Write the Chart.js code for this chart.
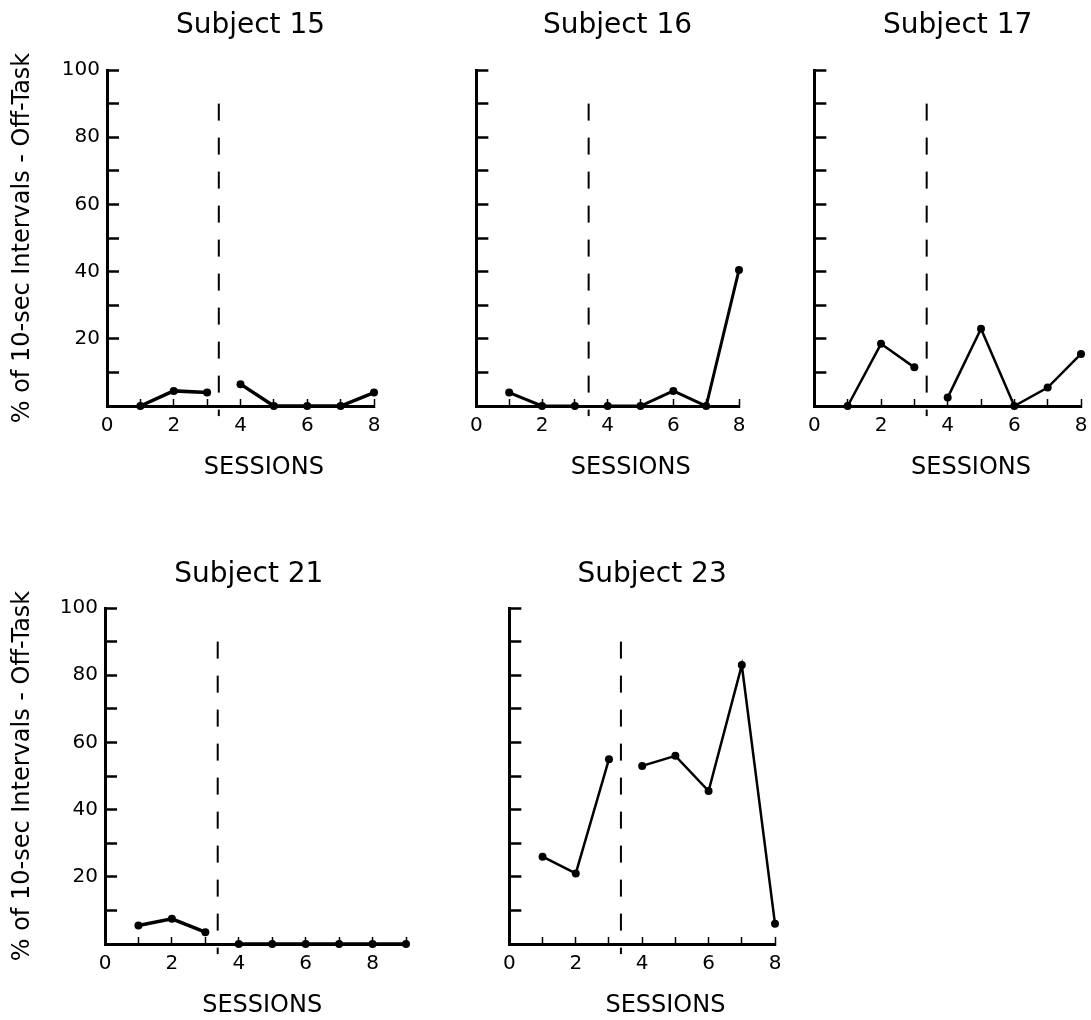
<!DOCTYPE html>
<html>
<head>
<meta charset="utf-8">
<script src="https://cdn.jsdelivr.net/npm/chart.js@4.4.1/dist/chart.umd.min.js"></script>
<style>
    html, body { margin: 0; padding: 0; background: #fff; overflow: hidden; }
    #wrap { position: relative; width: 1091px; height: 1020px; overflow: hidden; }
    canvas { position: absolute; }
</style>
</head>
<body>
<div id="wrap"></div>
<script>
// sessions and % of 10-sec intervals off-task
const subjects = ['Subject 15', 'Subject 16', 'Subject 17', 'Subject 21', 'Subject 23'];
const baselineSessions = [1, 2, 3];
const treatmentSessions = [4, 5, 6, 7, 8];
const treatmentSessions21 = [4, 5, 6, 7, 8, 9];

const s15Baseline = [0, 4.5, 4];
const s15Treatment = [6.5, 0, 0, 0, 4];
const s16Baseline = [4, 0, 0];
const s16Treatment = [0, 0, 4.5, 0, 40.5];
const s17Baseline = [0, 18.5, 11.5];
const s17Treatment = [2.5, 23, 0, 5.5, 15.5];
const s21Baseline = [5.5, 7.5, 3.5];
const s21Treatment = [0, 0, 0, 0, 0, 0];
const s23Baseline = [26, 21, 55];
const s23Treatment = [53, 56, 45.5, 83, 6];

const phaseChange = [3.35, 3.42, 3.37, 3.37, 3.36];
const sessionMax = [8, 8, 8, 9, 8];

const Y_TITLE = '% of 10-sec Intervals - Off-Task';
const X_TITLE = 'SESSIONS';

Chart.defaults.font.family = "'DejaVu Sans', sans-serif";
Chart.defaults.color = '#000';

// dashed baseline/treatment divider
const phaseLinePlugin = {
    id: 'phaseLine',
    afterDatasetsDraw(chart, args, opts) {
        const { ctx, scales: { x, y } } = chart;
        const xPos = x.getPixelForValue(opts.value);
        ctx.save();
        ctx.beginPath();
        ctx.setLineDash([17, 17]);
        ctx.strokeStyle = '#000';
        ctx.lineWidth = 2;
        ctx.moveTo(xPos, y.getPixelForValue(90));
        ctx.lineTo(xPos, y.getPixelForValue(-3));
        ctx.stroke();
        ctx.restore();
    }
};

// panel title and x caption, centred off-axis like the original figure
const captionPlugin = {
    id: 'captions',
    afterDraw(chart, args, opts) {
        const { ctx, chartArea, scales: { x } } = chart;
        ctx.save();
        ctx.fillStyle = '#000';
        ctx.textAlign = 'center';
        ctx.textBaseline = 'middle';
        ctx.font = "28px 'DejaVu Sans'";
        ctx.fillText(opts.title, x.getPixelForValue(4.3), chartArea.top - opts.titleGap);
        ctx.font = "24px 'DejaVu Sans'";
        ctx.fillText(opts.xTitle, x.getPixelForValue(4.7), chartArea.bottom + 62);
        ctx.restore();
    }
};
Chart.register(phaseLinePlugin, captionPlugin);

function series(sessions, values) {
    return sessions.map((s, i) => ({ x: s, y: values[i] }));
}

// canvas placement per panel (page pixels)
const panels = [
    { left: 0,   top: 0,   width: 400, height: 490, yW: 107, pad: { top: 70, right: 26, bottom: 44 }, titleGap: 44, labels: true,  lw: 3.5, base: s15Baseline, treat: s15Treatment, treatX: treatmentSessions },
    { left: 455, top: 0,   width: 310, height: 490, yW: 20,  pad: { top: 70, right: 26, bottom: 44 }, titleGap: 44, labels: false, lw: 3,   base: s16Baseline, treat: s16Treatment, treatX: treatmentSessions },
    { left: 793, top: 0,   width: 314, height: 490, yW: 20,  pad: { top: 70, right: 26, bottom: 44 }, titleGap: 44, labels: false, lw: 2.5, base: s17Baseline, treat: s17Treatment, treatX: treatmentSessions },
    { left: 0,   top: 540, width: 430, height: 480, yW: 105, pad: { top: 68, right: 24, bottom: 36 }, titleGap: 33, labels: true,  lw: 3.5, base: s21Baseline, treat: s21Treatment, treatX: treatmentSessions21 },
    { left: 488, top: 540, width: 320, height: 480, yW: 20,  pad: { top: 68, right: 33, bottom: 36 }, titleGap: 33, labels: false, lw: 2.5, base: s23Baseline, treat: s23Treatment, treatX: treatmentSessions }
];

panels.forEach((p, i) => {
    const canvas = document.createElement('canvas');
    canvas.width = p.width;
    canvas.height = p.height;
    canvas.style.left = p.left + 'px';
    canvas.style.top = p.top + 'px';
    document.getElementById('wrap').appendChild(canvas);

    const lineStyle = {
        borderColor: '#000', backgroundColor: '#000', borderWidth: p.lw,
        pointRadius: 4, pointBackgroundColor: '#000', pointBorderWidth: 0,
        tension: 0, fill: false, clip: false
    };

    new Chart(canvas.getContext('2d'), {
        type: 'line',
        data: {
            datasets: [
                { ...lineStyle, label: 'Baseline', data: series(baselineSessions, p.base) },
                { ...lineStyle, label: 'Treatment', data: series(p.treatX, p.treat) }
            ]
        },
        options: {
            responsive: false,
            animation: false,
            events: [],
            layout: { padding: { left: 0, top: p.pad.top, right: p.pad.right, bottom: p.pad.bottom } },
            scales: {
                x: {
                    type: 'linear',
                    min: 0,
                    max: sessionMax[i],
                    afterFit: s => { s.height = 40; },
                    border: { display: true, color: '#000', width: 3 },
                    grid: { drawOnChartArea: false, drawTicks: true, tickLength: -7, tickColor: '#000', tickWidth: 1.5 },
                    ticks: {
                        stepSize: 1,
                        autoSkip: false,
                        maxRotation: 0,
                        padding: 15,
                        font: { size: 20 },
                        callback: v => (v % 2 === 0 ? String(v) : '')
                    }
                },
                y: {
                    min: 0,
                    max: 100,
                    afterFit: s => { s.width = p.yW; },
                    border: { display: true, color: '#000', width: 3 },
                    grid: { drawOnChartArea: false, drawTicks: true, tickLength: -12, tickColor: '#000', tickWidth: 2.5 },
                    title: {
                        display: p.labels,
                        text: Y_TITLE,
                        font: { size: 24 },
                        padding: { top: 8, bottom: 0 }
                    },
                    ticks: {
                        display: p.labels,
                        stepSize: 10,
                        autoSkip: false,
                        padding: 19,
                        font: { size: 20 },
                        callback: v => (v > 0 && v % 20 === 0 ? String(v) : '')
                    }
                }
            },
            plugins: {
                legend: { display: false },
                tooltip: { enabled: false },
                phaseLine: { value: phaseChange[i] },
                captions: { title: subjects[i], xTitle: X_TITLE, titleGap: p.titleGap }
            }
        }
    });
});
</script>
</body>
</html>
